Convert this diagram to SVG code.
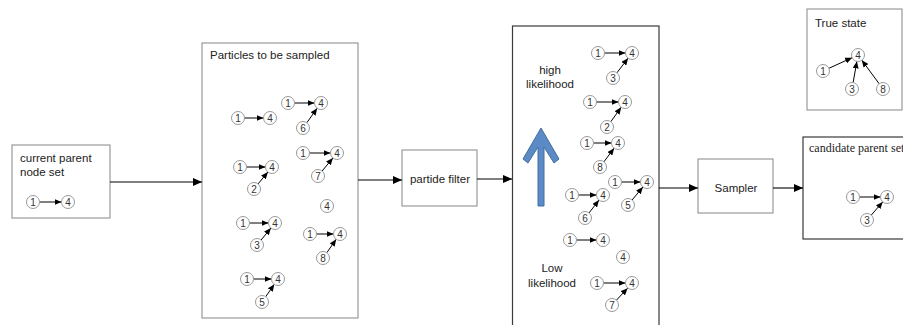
<svg xmlns="http://www.w3.org/2000/svg" width="903" height="325" viewBox="0 0 903 325">
<defs>
<marker id="big" markerWidth="9" markerHeight="8" refX="9" refY="4" orient="auto" markerUnits="userSpaceOnUse"><path d="M0,0 L9,4 L0,8 z" fill="#000"/></marker>
<marker id="sm" markerWidth="7" markerHeight="6" refX="7" refY="3" orient="auto" markerUnits="userSpaceOnUse"><path d="M0,0 L7,3 L0,6 z" fill="#000"/></marker>
<style>
.box{fill:#fff;stroke:#9a9a9a;stroke-width:1.2}
.dbox{fill:#fff;stroke:#3a3a3a;stroke-width:1.2}
.t{font-family:"Liberation Sans",Arial,sans-serif;font-size:11.5px;fill:#222}
.ts{font-family:"Liberation Serif","Times New Roman",serif;font-size:12px;fill:#222}
.n circle{fill:#fff;stroke:#999;stroke-width:1}
.n text{font-family:"Liberation Sans",Arial,sans-serif;font-size:10px;fill:#333;text-anchor:middle}
.e{stroke:#000;stroke-width:1;fill:none;marker-end:url(#sm)}
.c{stroke:#000;stroke-width:1.1;fill:none;marker-end:url(#big)}
</style>
</defs>
<rect width="903" height="325" fill="#fff"/>

<g id="current-parent">
<rect class="box" x="12" y="145" width="98" height="73"/>
<text class="t" x="20" y="162">current parent</text>
<text class="t" x="20" y="176">node set</text>
<line class="e" x1="39.5" y1="202" x2="61.5" y2="202"/>
<g class="n"><circle cx="33" cy="202" r="6.5"/><text x="33" y="205.5">1</text><circle cx="68" cy="202" r="6.5"/><text x="68" y="205.5">4</text></g>
</g>

<g id="particles">
<rect class="box" x="202" y="43" width="156" height="275"/>
<text class="t" x="210" y="59">Particles to be sampled</text>
<g class="edges">
<line class="e" x1="244.5" y1="118" x2="263.5" y2="118"/>
<line class="e" x1="294.5" y1="103" x2="314.5" y2="103"/>
<line class="e" x1="306.8" y1="122.7" x2="317.2" y2="108.3"/>
<line class="e" x1="246.5" y1="167" x2="265.5" y2="167"/>
<line class="e" x1="258.1" y1="183.9" x2="267.9" y2="172"/>
<line class="e" x1="309.5" y1="153" x2="330.5" y2="153"/>
<line class="e" x1="322.1" y1="171" x2="332.9" y2="158"/>
<line class="e" x1="249.5" y1="223" x2="268.5" y2="223"/>
<line class="e" x1="261.1" y1="240" x2="270.9" y2="228"/>
<line class="e" x1="316.5" y1="234" x2="333.5" y2="234"/>
<line class="e" x1="326.8" y1="252.7" x2="336.2" y2="239.3"/>
<line class="e" x1="253.5" y1="279" x2="271.5" y2="279"/>
<line class="e" x1="265.7" y1="296.7" x2="274.3" y2="284.3"/>
</g>
<g class="n">
<circle cx="238" cy="118" r="6.5"/><text x="238" y="121.5">1</text>
<circle cx="270" cy="118" r="6.5"/><text x="270" y="121.5">4</text>
<circle cx="288" cy="103" r="6.5"/><text x="288" y="106.5">1</text>
<circle cx="321" cy="103" r="6.5"/><text x="321" y="106.5">4</text>
<circle cx="303" cy="128" r="6.5"/><text x="303" y="131.5">6</text>
<circle cx="240" cy="167" r="6.5"/><text x="240" y="170.5">1</text>
<circle cx="272" cy="167" r="6.5"/><text x="272" y="170.5">4</text>
<circle cx="254" cy="189" r="6.5"/><text x="254" y="192.5">2</text>
<circle cx="303" cy="153" r="6.5"/><text x="303" y="156.5">1</text>
<circle cx="337" cy="153" r="6.5"/><text x="337" y="156.5">4</text>
<circle cx="318" cy="176" r="6.5"/><text x="318" y="179.5">7</text>
<circle cx="327" cy="206" r="6.5"/><text x="327" y="209.5">4</text>
<circle cx="243" cy="223" r="6.5"/><text x="243" y="226.5">1</text>
<circle cx="275" cy="223" r="6.5"/><text x="275" y="226.5">4</text>
<circle cx="257" cy="245" r="6.5"/><text x="257" y="248.5">3</text>
<circle cx="310" cy="234" r="6.5"/><text x="310" y="237.5">1</text>
<circle cx="340" cy="234" r="6.5"/><text x="340" y="237.5">4</text>
<circle cx="323" cy="258" r="6.5"/><text x="323" y="261.5">8</text>
<circle cx="247" cy="279" r="6.5"/><text x="247" y="282.5">1</text>
<circle cx="278" cy="279" r="6.5"/><text x="278" y="282.5">4</text>
<circle cx="262" cy="302" r="6.5"/><text x="262" y="305.5">5</text>
</g>
</g>

<g id="particle-filter">
<rect class="box" x="402" y="150" width="75" height="56"/>
<text class="t" x="440" y="183" text-anchor="middle">partide filter</text>
</g>

<g id="likelihood">
<rect class="dbox" x="512.5" y="26" width="146.5" height="310"/>
<text class="t" x="550" y="74" text-anchor="middle">high</text>
<text class="t" x="550" y="88" text-anchor="middle">likelihood</text>
<text class="t" x="552" y="272" text-anchor="middle">Low</text>
<text class="t" x="552" y="287" text-anchor="middle">likelihood</text>
<polygon points="541,128 559,159 554,163 544,147 544,206 538,206 538,147 528,163 523,159" fill="#5b8ac6" stroke="#41709e" stroke-width="1"/>
<g class="edges">
<line class="e" x1="604.5" y1="53" x2="625.5" y2="53"/>
<line class="e" x1="616.9" y1="72.8" x2="628.1" y2="58.2"/>
<line class="e" x1="596.5" y1="102" x2="618.5" y2="102"/>
<line class="e" x1="610.8" y1="121.7" x2="621.2" y2="107.3"/>
<line class="e" x1="593.5" y1="143" x2="611.5" y2="143"/>
<line class="e" x1="603.9" y1="161.8" x2="614.1" y2="148.2"/>
<line class="e" x1="621.5" y1="182" x2="640.5" y2="182"/>
<line class="e" x1="632.1" y1="200" x2="642.9" y2="187"/>
<line class="e" x1="578.5" y1="195" x2="596.5" y2="195"/>
<line class="e" x1="589" y1="212.9" x2="599" y2="200.1"/>
<line class="e" x1="576.5" y1="240" x2="596.5" y2="240"/>
<line class="e" x1="603.5" y1="283" x2="625.5" y2="283"/>
<line class="e" x1="616.4" y1="300.2" x2="627.6" y2="288.2"/>
</g>
<g class="n">
<circle cx="598" cy="53" r="6.5"/><text x="598" y="56.5">1</text>
<circle cx="632" cy="53" r="6.5"/><text x="632" y="56.5">4</text>
<circle cx="613" cy="78" r="6.5"/><text x="613" y="81.5">3</text>
<circle cx="590" cy="102" r="6.5"/><text x="590" y="105.5">1</text>
<circle cx="625" cy="102" r="6.5"/><text x="625" y="105.5">4</text>
<circle cx="607" cy="127" r="6.5"/><text x="607" y="130.5">2</text>
<circle cx="587" cy="143" r="6.5"/><text x="587" y="146.5">1</text>
<circle cx="618" cy="143" r="6.5"/><text x="618" y="146.5">4</text>
<circle cx="600" cy="167" r="6.5"/><text x="600" y="170.5">8</text>
<circle cx="615" cy="182" r="6.5"/><text x="615" y="185.5">1</text>
<circle cx="647" cy="182" r="6.5"/><text x="647" y="185.5">4</text>
<circle cx="628" cy="205" r="6.5"/><text x="628" y="208.5">5</text>
<circle cx="572" cy="195" r="6.5"/><text x="572" y="198.5">1</text>
<circle cx="603" cy="195" r="6.5"/><text x="603" y="198.5">4</text>
<circle cx="585" cy="218" r="6.5"/><text x="585" y="221.5">6</text>
<circle cx="570" cy="240" r="6.5"/><text x="570" y="243.5">1</text>
<circle cx="603" cy="240" r="6.5"/><text x="603" y="243.5">4</text>
<circle cx="623" cy="257" r="6.5"/><text x="623" y="260.5">4</text>
<circle cx="597" cy="283" r="6.5"/><text x="597" y="286.5">1</text>
<circle cx="632" cy="283" r="6.5"/><text x="632" y="286.5">4</text>
<circle cx="612" cy="305" r="6.5"/><text x="612" y="308.5">7</text>
</g>
</g>

<g id="sampler">
<rect class="box" x="698" y="159" width="75" height="54"/>
<text class="t" x="736" y="192" text-anchor="middle">Sampler</text>
</g>

<g id="candidate">
<rect class="dbox" x="803" y="137" width="120" height="102"/>
<text class="ts" x="809" y="152">candidate parent set</text>
<line class="e" x1="859.5" y1="197" x2="880.5" y2="197"/>
<line class="e" x1="871.3" y1="215.1" x2="882.7" y2="201.9"/>
<g class="n">
<circle cx="853" cy="197" r="6.5"/><text x="853" y="200.5">1</text>
<circle cx="887" cy="197" r="6.5"/><text x="887" y="200.5">4</text>
<circle cx="867" cy="220" r="6.5"/><text x="867" y="223.5">3</text>
</g>
</g>

<g id="true-state">
<rect class="box" x="807" y="9" width="95" height="101"/>
<text class="t" x="815" y="27">True state</text>
<line class="e" x1="828.9" y1="68.3" x2="852.1" y2="57.7"/>
<line class="e" x1="853.1" y1="82.6" x2="856.9" y2="61.4"/>
<line class="e" x1="879.2" y1="83.8" x2="861.8" y2="60.2"/>
<g class="n">
<circle cx="858" cy="55" r="6.5"/><text x="858" y="58.5">4</text>
<circle cx="823" cy="71" r="6.5"/><text x="823" y="74.5">1</text>
<circle cx="852" cy="89" r="6.5"/><text x="852" y="92.5">3</text>
<circle cx="883" cy="89" r="6.5"/><text x="883" y="92.5">8</text>
</g>
</g>

<g id="connectors">
<line class="c" x1="110" y1="182" x2="202" y2="182"/>
<line class="c" x1="358" y1="180" x2="402" y2="180"/>
<line class="c" x1="477" y1="179" x2="512" y2="179"/>
<line class="c" x1="659" y1="188" x2="698" y2="188"/>
<line class="c" x1="773" y1="188" x2="803" y2="188"/>
</g>
</svg>
